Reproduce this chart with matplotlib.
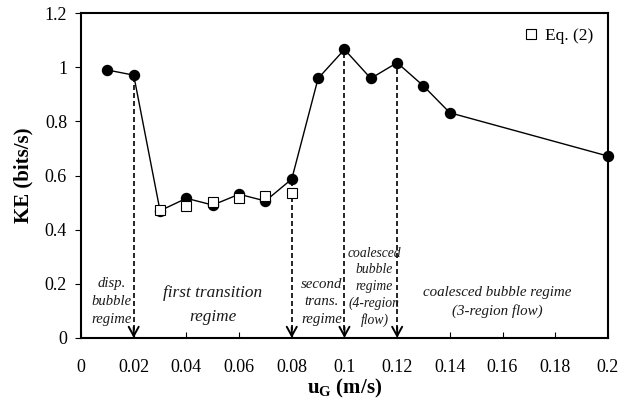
import matplotlib
matplotlib.use("Agg")
import matplotlib.pyplot as plt

plt.rcParams['font.family'] = ['Liberation Serif', 'DejaVu Serif']
plt.rcParams['mathtext.fontset'] = 'custom'
plt.rcParams['mathtext.rm'] = 'Liberation Serif'
plt.rcParams['mathtext.it'] = 'Liberation Serif:italic'
plt.rcParams['mathtext.bf'] = 'Liberation Serif:bold'

# Data
ug_exp = [0.01, 0.02, 0.03, 0.04, 0.05, 0.06, 0.07, 0.08, 0.09, 0.10, 0.11, 0.12, 0.13, 0.14, 0.20]
ke_exp = [0.99, 0.971, 0.47, 0.516, 0.491, 0.531, 0.506, 0.587, 0.959, 1.066, 0.959, 1.017, 0.931, 0.832, 0.672]
ug_eq = [0.03, 0.04, 0.05, 0.06, 0.07, 0.08]
ke_eq = [0.471, 0.487, 0.501, 0.516, 0.525, 0.534]
transitions = [0.02, 0.08, 0.10, 0.12]
xticks = [0, 0.02, 0.04, 0.06, 0.08, 0.1, 0.12, 0.14, 0.16, 0.18, 0.2]
yticks = [0, 0.2, 0.4, 0.6, 0.8, 1, 1.2]
xtick_labels = ['0', '0.02', '0.04', '0.06', '0.08', '0.1', '0.12', '0.14', '0.16', '0.18', '0.2']
ytick_labels = ['0', '0.2', '0.4', '0.6', '0.8', '1', '1.2']
# text, x, y, fontsize, linespacing
regimes = [
    ("disp.\nbubble\nregime", 0.0116, 0.133, 10.5, 1.5),
    ("first transition\nregime", 0.0499, 0.122, 12.4, 1.6),
    ("second\ntrans.\nregime", 0.0913, 0.133, 10.7, 1.46),
    ("coalesced\nbubble\nregime\n(4-region\nflow)", 0.1114, 0.188, 9.8, 1.35),
    ("coalesced bubble regime\n(3-region flow)", 0.158, 0.133, 10.8, 1.4),
]

fig = plt.figure(figsize=(6.28, 3.99), dpi=100)
ax = fig.add_axes([0.129, 0.153, 0.839, 0.814])

ax.plot(ug_exp, ke_exp, '-o', color='black', lw=1.0, markersize=7.2,
        markerfacecolor='black', markeredgecolor='black', zorder=3, clip_on=False)
ax.plot(ug_eq, ke_eq, 's', color='black', markersize=7, markerfacecolor='white',
        markeredgecolor='black', markeredgewidth=0.8, zorder=4, label='Eq. (2)')

ke_lookup = dict(zip(ug_exp, ke_exp))
for xt in transitions:
    yt = ke_lookup[xt]
    ax.vlines(xt, 0.03, yt, colors='black', linestyles=(0, (3, 1.8)), lw=1.2, zorder=2)
    ax.annotate('', xy=(xt, 0.0), xytext=(xt, 0.04),
                arrowprops=dict(arrowstyle='->,head_length=0.55,head_width=0.3',
                                color='black', lw=1.4,
                                shrinkA=0, shrinkB=0, mutation_scale=12))

for txt, xx, yy, fs, ls in regimes:
    ax.text(xx, yy, txt, ha='center', va='center', style='italic', fontsize=fs,
            linespacing=ls, color='#1a1a1a')

ax.set_xlim(0, 0.2)
ax.set_ylim(0, 1.2)
ax.set_xticks(xticks)
ax.set_xticklabels(xtick_labels)
ax.set_yticks(yticks)
ax.set_yticklabels(ytick_labels)
ax.tick_params(axis='x', direction='in', length=4, pad=15, labelsize=13)
ax.tick_params(axis='y', direction='out', length=4, pad=6, labelsize=13)
for sp in ax.spines.values():
    sp.set_linewidth(1.5)

ax.set_ylabel('KE (bits/s)', fontsize=15, fontweight='bold', labelpad=8)
ax.set_xlabel(r'$\mathbf{u_G}$ (m/s)', fontsize=15, fontweight='bold', labelpad=1)

leg = ax.legend(loc='upper right', frameon=False, fontsize=12.5, handletextpad=0.3,
                handlelength=1.0, borderaxespad=0.45)

fig.savefig('out.png', dpi=100)
